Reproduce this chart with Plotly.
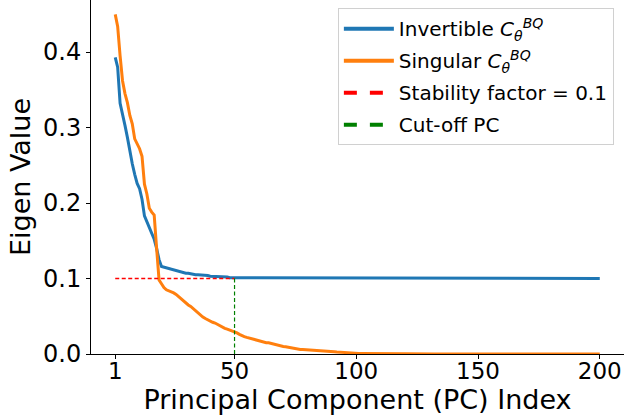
import plotly.graph_objects as go

pc_index = list(range(1, 201))

invertible_eig = [
    0.393, 0.380, 0.332, 0.319, 0.303, 0.287, 0.268, 0.252, 0.238, 0.226,
    0.219, 0.205, 0.183, 0.175, 0.167, 0.160, 0.152, 0.140, 0.125, 0.116,
    0.115, 0.114, 0.113, 0.112, 0.111, 0.110, 0.109, 0.109, 0.108, 0.107,
    0.107, 0.106, 0.106, 0.105, 0.105, 0.105, 0.104, 0.104, 0.104, 0.103,
    0.103, 0.103, 0.102, 0.102, 0.102, 0.102, 0.102, 0.101, 0.101, 0.101,
    0.101, 0.101, 0.101, 0.101, 0.1008, 0.1008, 0.1007, 0.1007, 0.1006, 0.1006,
    0.1005, 0.1005, 0.1005, 0.1004, 0.1004, 0.1004, 0.1003, 0.1003, 0.1003, 0.1003,
    0.1002, 0.1002, 0.1002, 0.1002, 0.1002, 0.1001, 0.1001, 0.1001, 0.1001, 0.1001,
    0.100, 0.100, 0.100, 0.100, 0.100, 0.100, 0.100, 0.100, 0.100, 0.100,
    0.100, 0.100, 0.100, 0.100, 0.100, 0.100, 0.100, 0.100, 0.100, 0.100,
    0.100, 0.100, 0.100, 0.100, 0.100, 0.100, 0.100, 0.100, 0.100, 0.100,
    0.100, 0.100, 0.100, 0.100, 0.100, 0.100, 0.100, 0.100, 0.100, 0.100,
    0.100, 0.100, 0.100, 0.100, 0.100, 0.100, 0.100, 0.100, 0.100, 0.100,
    0.100, 0.100, 0.100, 0.100, 0.100, 0.100, 0.100, 0.100, 0.100, 0.100,
    0.100, 0.100, 0.100, 0.100, 0.100, 0.100, 0.100, 0.100, 0.100, 0.100,
    0.100, 0.100, 0.100, 0.100, 0.100, 0.100, 0.100, 0.100, 0.100, 0.100,
    0.100, 0.100, 0.100, 0.100, 0.100, 0.100, 0.100, 0.100, 0.100, 0.100,
    0.100, 0.100, 0.100, 0.100, 0.100, 0.100, 0.100, 0.100, 0.100, 0.100,
    0.100, 0.100, 0.100, 0.100, 0.100, 0.100, 0.100, 0.100, 0.100, 0.100,
    0.100, 0.100, 0.100, 0.100, 0.100, 0.100, 0.100, 0.100, 0.100, 0.100,
]

singular_eig = [
    0.450, 0.434, 0.395, 0.362, 0.345, 0.333, 0.316, 0.305, 0.285, 0.278,
    0.272, 0.262, 0.225, 0.212, 0.193, 0.188, 0.184, 0.140, 0.098, 0.093,
    0.088, 0.085, 0.084, 0.083, 0.081, 0.079, 0.076, 0.073, 0.070, 0.067,
    0.065, 0.063, 0.060, 0.057, 0.054, 0.052, 0.049, 0.047, 0.045, 0.044,
    0.042, 0.041, 0.039, 0.037, 0.035, 0.034, 0.033, 0.032, 0.031, 0.029,
    0.028, 0.026, 0.024, 0.023, 0.022, 0.021, 0.020, 0.019, 0.019, 0.018,
    0.017, 0.016, 0.015, 0.015, 0.014, 0.013, 0.012, 0.011, 0.011, 0.010,
    0.0097, 0.0090, 0.0080, 0.0075, 0.0070, 0.0066, 0.0060, 0.0060, 0.0058, 0.0056,
    0.0055, 0.0054, 0.0053, 0.0053, 0.0050, 0.0047, 0.0044, 0.0040, 0.0037, 0.0034,
    0.0030, 0.0027, 0.0024, 0.0021, 0.0018, 0.0016, 0.0014, 0.0012, 0.0010, 0.0009,
    0.0008, 0.0008, 0.0007, 0.0007, 0.0006, 0.0006, 0.0005, 0.0005, 0.0004, 0.0004,
    0.0004, 0.0003, 0.0003, 0.0003, 0.0003, 0.0002, 0.0002, 0.0002, 0.0002, 0.0002,
    0.0001, 0.0001, 0.0001, 0.0001, 0.0001, 0.0001, 0.0001, 0.0001, 0.0001, 0.0001,
    0.0, 0.0, 0.0, 0.0, 0.0, 0.0, 0.0, 0.0, 0.0, 0.0,
    0.0, 0.0, 0.0, 0.0, 0.0, 0.0, 0.0, 0.0, 0.0, 0.0,
    0.0, 0.0, 0.0, 0.0, 0.0, 0.0, 0.0, 0.0, 0.0, 0.0,
    0.0, 0.0, 0.0, 0.0, 0.0, 0.0, 0.0, 0.0, 0.0, 0.0,
    0.0, 0.0, 0.0, 0.0, 0.0, 0.0, 0.0, 0.0, 0.0, 0.0,
    0.0, 0.0, 0.0, 0.0, 0.0, 0.0, 0.0, 0.0, 0.0, 0.0,
    0.0, 0.0, 0.0, 0.0, 0.0, 0.0, 0.0, 0.0, 0.0, 0.0,
]

stability_factor = 0.1
cutoff_pc = 50
stability_x = [1, cutoff_pc]
stability_y = [stability_factor, stability_factor]
cutoff_x = [cutoff_pc, cutoff_pc]
cutoff_y = [0.0, stability_factor]

x_ticks = [1, 50, 100, 150, 200]
y_ticks = [0.0, 0.1, 0.2, 0.3, 0.4]

legend_names = [
    "Invertible <i>C</i><sub><i>θ</i></sub><sup><i>BQ</i></sup>",
    "Singular <i>C</i><sub><i>θ</i></sub><sup><i>BQ</i></sup>",
    "Stability factor = 0.1",
    "Cut-off PC",
]

BLUE = "#1f77b4"
ORANGE = "#ff7f0e"
RED = "#ff0000"
GREEN = "#008000"

fig = go.Figure()
fig.add_trace(go.Scatter(x=pc_index, y=invertible_eig, mode="lines",
                         line=dict(color=BLUE, width=3), showlegend=False))
fig.add_trace(go.Scatter(x=pc_index, y=singular_eig, mode="lines",
                         line=dict(color=ORANGE, width=3), showlegend=False))
fig.add_trace(go.Scatter(x=stability_x, y=stability_y, mode="lines",
                         line=dict(color=RED, width=1.5, dash="4px,2.5px"), showlegend=False))
fig.add_trace(go.Scatter(x=cutoff_x, y=cutoff_y, mode="lines",
                         line=dict(color=GREEN, width=1.2, dash="4px,2.5px"), showlegend=False))

# legend handles
for i, (name, color, dash) in enumerate(zip(legend_names, [BLUE, ORANGE, RED, GREEN],
                                            ["solid", "solid", "13px,13px", "13px,13px"])):
    fig.add_trace(go.Scatter(x=[None], y=[None], mode="lines", name=name,
                             legendgroup=f"g{i}",
                             line=dict(color=color, width=4, dash=dash)))

fig.update_layout(
    width=624, height=419,
    margin=dict(l=91, r=0, t=0, b=65, autoexpand=False),
    paper_bgcolor="white", plot_bgcolor="white",
    font=dict(family="DejaVu Sans", color="black", size=24),
    legend=dict(x=0.981, y=0.977, xanchor="right", yanchor="top",
                bordercolor="#d0d0d0", borderwidth=1, bgcolor="rgba(255,255,255,0.8)",
                font=dict(size=20, family="DejaVu Sans"), tracegroupgap=3,
                itemwidth=50),
)
fig.update_xaxes(range=[-8.95, 209.95], tickvals=x_ticks, ticktext=[str(t) for t in x_ticks],
                 showline=True, linecolor="black", linewidth=1, showgrid=False, zeroline=False,
                 ticks="outside", ticklen=4, tickcolor="black", tickfont=dict(size=23),
                 ticklabelstandoff=-8, automargin=False,
                 title=dict(text="Principal Component (PC) Index", font=dict(size=27), standoff=4))
fig.update_yaxes(range=[0, 0.469], tickvals=y_ticks, ticktext=[f"{t:.1f}" for t in y_ticks],
                 showline=True, linecolor="black", linewidth=1, showgrid=False, zeroline=False,
                 ticks="outside", ticklen=4, tickcolor="black", tickfont=dict(size=24),
                 automargin=False,
                 title=dict(text="Eigen Value", font=dict(size=27), standoff=4))

fig.write_html("out.html", config={"displayModeBar": False},
               post_script="document.body.style.margin='0';document.body.style.overflow='hidden';")
